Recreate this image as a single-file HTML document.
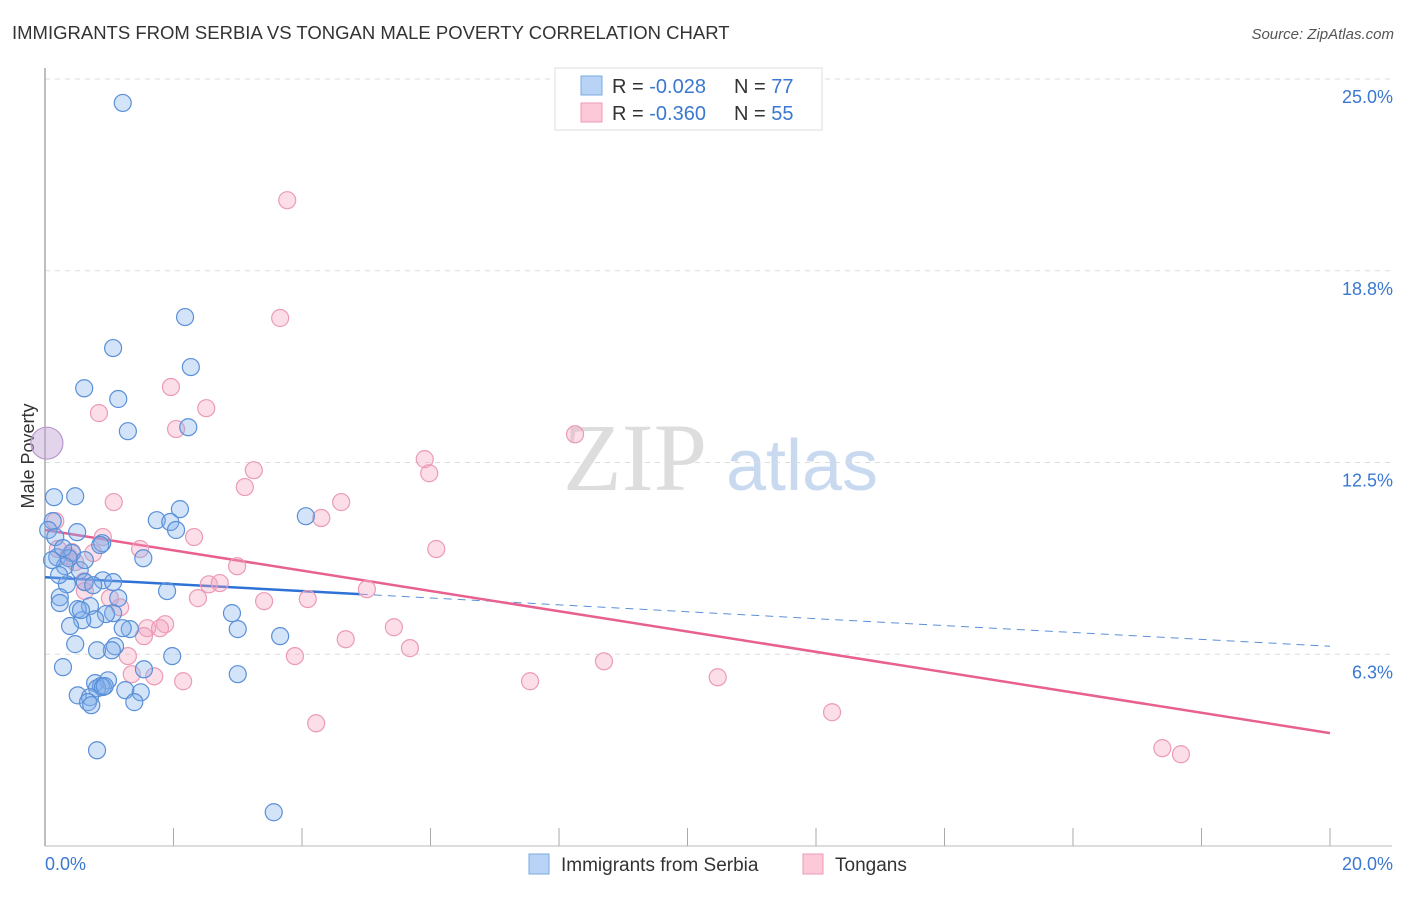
<!DOCTYPE html>
<html><head><meta charset="utf-8"><style>
body{margin:0;background:#fff;font-family:"Liberation Sans",sans-serif;}
svg text{font-family:"Liberation Sans",sans-serif;}
</style></head><body>
<svg id="chart" width="1406" height="892" viewBox="0 0 1406 892" xmlns="http://www.w3.org/2000/svg">
<text x="12" y="39" font-size="18.5" fill="#333">IMMIGRANTS FROM SERBIA VS TONGAN MALE POVERTY CORRELATION CHART</text>
<text x="1394" y="39" font-size="15" fill="#555" font-style="italic" text-anchor="end">Source: ZipAtlas.com</text>
<g>
<text x="635" y="490" font-size="96" fill="#ddd" font-family="Liberation Serif" text-anchor="middle" style="font-family:'Liberation Serif',serif">ZIP</text>
<text x="802" y="490" font-size="72" fill="#c9daf0" text-anchor="middle">atlas</text>
</g>
<g id="grid"></g>
<g id="axes"></g>
<text transform="translate(34,456) rotate(-90)" font-size="18" fill="#333" text-anchor="middle">Male Poverty</text>
<g id="trend"></g>
<g id="pts"></g>
<g>
<rect x="555" y="68" width="267" height="62" fill="#fff" stroke="#ddd"/>
<rect x="581" y="76" width="21" height="19" fill="#b8d3f5" stroke="#7aa8e0"/>
<rect x="581" y="103" width="21" height="19" fill="#fcc9d8" stroke="#ee9ab6"/>
<text x="612" y="93" font-size="20" fill="#333">R = <tspan fill="#3b78d0">-0.028</tspan></text>
<text x="734" y="93" font-size="20" fill="#333">N = <tspan fill="#3b78d0">77</tspan></text>
<text x="612" y="120" font-size="20" fill="#333">R = <tspan fill="#3b78d0">-0.360</tspan></text>
<text x="734" y="120" font-size="20" fill="#333">N = <tspan fill="#3b78d0">55</tspan></text>
</g>
<g>
<rect x="529" y="854" width="20" height="20" fill="#b8d3f5" stroke="#7aa8e0"/>
<text x="561" y="871" font-size="19" fill="#333">Immigrants from Serbia</text>
<rect x="803" y="854" width="20" height="20" fill="#fcc9d8" stroke="#ee9ab6"/>
<text x="835" y="871" font-size="19" fill="#333">Tongans</text>
</g>
</svg>
<script>
const xTicks=[0,2,4,6,8,10,12,14,16,18,20];
const yTickVals=[25,18.75,12.5,6.25];
const yTickLabels=["25.0%","18.8%","12.5%","6.3%"];
const xEndLabels=["0.0%","20.0%"];
const serbiaX=[1.21,2.18,1.06,2.27,0.61,1.14,1.29,2.23,0.14,0.47,2.10,1.74,1.95,2.04,4.06,0.12,0.05,0.50,0.16,0.89,0.42,0.19,0.37,1.53,0.31,0.54,0.34,0.62,0.90,1.90,0.23,1.14,0.70,0.51,0.23,1.06,0.95,0.78,0.58,0.39,1.32,2.91,3.00,3.66,1.09,0.47,1.04,0.81,1.98,0.28,1.54,3.00,0.98,0.78,0.87,0.81,0.90,1.25,1.49,0.51,0.70,0.67,1.39,0.72,0.81,3.56,0.28,0.86,0.62,0.22,1.21,0.56,0.11,0.93,1.06,0.75];
const serbiaY=[24.22,17.24,16.23,15.61,14.92,14.57,13.52,13.65,11.37,11.40,10.98,10.62,10.56,10.30,10.75,10.59,10.30,10.23,10.07,9.87,9.55,9.41,9.38,9.38,9.12,8.99,8.53,8.60,8.66,8.31,8.11,8.08,7.82,7.72,7.92,7.59,7.56,7.39,7.36,7.17,7.07,7.59,7.07,6.84,6.51,6.58,6.38,6.38,6.19,5.83,5.76,5.60,5.40,5.31,5.21,5.14,5.18,5.08,5.01,4.91,4.85,4.69,4.69,4.59,3.12,1.10,9.71,9.81,9.32,8.83,7.10,7.69,9.32,5.21,8.60,8.50];
const tonganX=[3.77,3.66,1.96,2.51,0.84,2.04,8.25,5.91,5.98,3.25,3.11,1.07,4.61,4.30,0.16,0.90,2.32,6.09,0.75,1.48,0.36,0.47,2.99,0.61,2.55,2.72,5.01,1.01,2.38,1.17,4.09,3.41,1.87,1.79,1.59,1.54,5.43,4.68,1.29,3.89,5.68,8.70,1.35,1.70,2.15,7.55,10.47,4.22,12.25,17.39,17.68,0.42,0.62,0.20];
const tonganY=[21.05,17.21,14.96,14.27,14.11,13.59,13.42,12.61,12.15,12.25,11.70,11.21,11.21,10.69,10.59,10.07,10.07,9.68,9.55,9.68,9.45,9.25,9.12,8.63,8.53,8.57,8.37,8.08,8.08,7.78,8.05,7.98,7.23,7.10,7.10,6.84,7.13,6.74,6.19,6.19,6.45,6.02,5.60,5.53,5.37,5.37,5.50,4.00,4.36,3.19,2.99,9.58,8.31,9.68];
const bigPoint=[0.03,13.13];
const serbiaTrend=[8.76,6.51];
const tonganTrend=[10.30,3.68];
const serbiaSolidEnd=4.9;

const NS="http://www.w3.org/2000/svg";
const X0=45,X1=1330,Y0=846,Y25=79;
const xs=v=>X0+(X1-X0)*v/20;
const ys=v=>Y0-(Y0-Y25)*v/25;
function mk(tag,attrs,parent){const e=document.createElementNS(NS,tag);for(const k in attrs)e.setAttribute(k,attrs[k]);parent.appendChild(e);return e;}
const grid=document.getElementById('grid'),axes=document.getElementById('axes'),trend=document.getElementById('trend'),pts=document.getElementById('pts');
yTickVals.forEach((v,i)=>{
 const l=mk('line',{x1:X0,x2:1392,y1:ys(v),y2:ys(v),stroke:'#ddd','stroke-dasharray':'5,5'},grid);
 
 
 const t=mk('text',{x:1393,y:ys(v)+24,'font-size':18,fill:'#3b78d0','text-anchor':'end'},axes);
 t.textContent=yTickLabels[i];
 
 
});
const ax=mk('line',{x1:X0,x2:X0,y1:68,y2:Y0,stroke:'#aaa','stroke-width':1.5},axes);


const bx=mk('line',{x1:X0,x2:1392,y1:Y0,y2:Y0,stroke:'#bbb','stroke-width':1},axes);


xTicks.forEach(v=>{
 const t=mk('line',{x1:xs(v),x2:xs(v),y1:828,y2:Y0,stroke:'#aaa'},axes);
 
 
});
const xl0=mk('text',{x:45,y:870,'font-size':18,fill:'#3b78d0'},axes);xl0.textContent=xEndLabels[0];


const xl1=mk('text',{x:1393,y:870,'font-size':18,fill:'#3b78d0','text-anchor':'end'},axes);xl1.textContent=xEndLabels[1];



function drawPts(X,Y,fill,stroke,name){
 X.forEach((x,i)=>{
  const c=mk('circle',{cx:xs(x),cy:ys(Y[i]),r:8.5,fill:fill,stroke:stroke,'stroke-width':1.2},pts);
  
  
 });
}
drawPts(tonganX,tonganY,'rgba(244,160,188,0.35)','#ec9ab7','tongan-point');
drawPts(serbiaX,serbiaY,'rgba(130,175,235,0.35)','#5a90d8','serbia-point');
const big=mk('circle',{cx:xs(bigPoint[0]),cy:ys(bigPoint[1]),r:16,fill:'rgba(190,160,210,0.45)',stroke:'#b99ad0','stroke-width':1.2},pts);



const ty=(tr,x)=>tr[0]+(tr[1]-tr[0])*x/20;
const s1=mk('line',{x1:xs(0),y1:ys(ty(serbiaTrend,0)),x2:xs(serbiaSolidEnd),y2:ys(ty(serbiaTrend,serbiaSolidEnd)),stroke:'#2f72d6','stroke-width':2.5},trend);


const s2=mk('line',{x1:xs(serbiaSolidEnd),y1:ys(ty(serbiaTrend,serbiaSolidEnd)),x2:xs(20),y2:ys(ty(serbiaTrend,20)),stroke:'#5a90d8','stroke-width':1,'stroke-dasharray':'8,6'},trend);


const p1=mk('line',{x1:xs(0),y1:ys(ty(tonganTrend,0)),x2:xs(20),y2:ys(ty(tonganTrend,20)),stroke:'#e8608f','stroke-width':2.5},trend);


</script>
</body></html>
